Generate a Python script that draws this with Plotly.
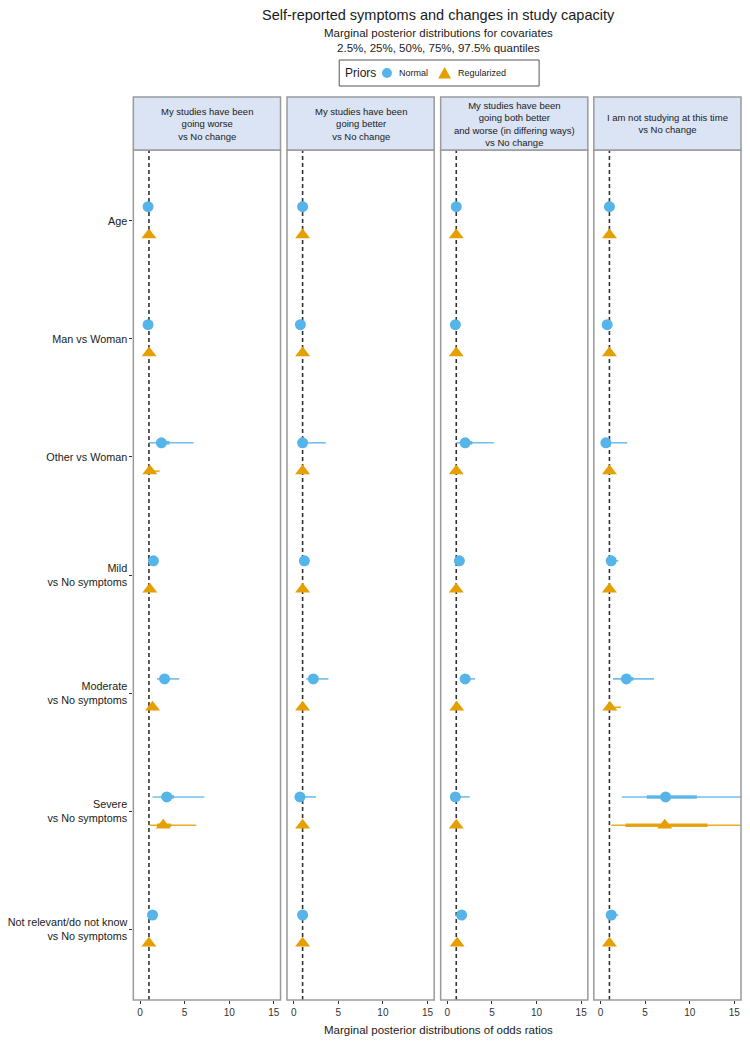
import plotly.graph_objects as go

# ---------------- data ----------------
covariates = ["Age", "Man vs Woman", "Other vs Woman", "Mild<br>vs No symptoms",
              "Moderate<br>vs No symptoms", "Severe<br>vs No symptoms",
              "Not relevant/do not know<br>vs No symptoms"]

panels = ["My studies have been<br>going worse<br>vs No change",
          "My studies have been<br>going better<br>vs No change",
          "My studies have been<br>going both better<br>and worse (in differing ways)<br>vs No change",
          "I am not studying at this time<br>vs No change"]

priors = ["Normal", "Regularized"]

# rows: covariates; columns: 2.5%, 25%, 50%, 75%, 97.5% quantiles of odds ratios
worse_normal = [[0.8, 0.85, 0.9, 0.95, 1.0],
                [0.75, 0.85, 0.9, 0.95, 1.05],
                [1.0, 1.8, 2.4, 3.3, 6.0],
                [1.2, 1.4, 1.5, 1.65, 1.9],
                [1.9, 2.4, 2.75, 3.2, 4.4],
                [1.4, 2.4, 3.0, 3.8, 7.2],
                [1.1, 1.3, 1.4, 1.5, 1.7]]
worse_reg = [[0.9, 0.97, 1.0, 1.03, 1.1],
             [0.9, 0.98, 1.02, 1.06, 1.2],
             [0.9, 1.0, 1.1, 1.35, 2.2],
             [0.95, 1.05, 1.1, 1.2, 1.35],
             [1.0, 1.25, 1.4, 1.55, 1.8],
             [1.05, 1.9, 2.6, 3.5, 6.3],
             [0.85, 0.95, 1.0, 1.05, 1.15]]

better_normal = [[0.85, 0.95, 1.0, 1.05, 1.15],
                 [0.55, 0.65, 0.75, 0.85, 1.0],
                 [0.45, 0.8, 1.0, 1.5, 3.6],
                 [1.0, 1.1, 1.2, 1.3, 1.45],
                 [1.4, 1.9, 2.2, 2.6, 3.9],
                 [0.3, 0.55, 0.7, 1.0, 2.5],
                 [0.85, 0.95, 1.0, 1.05, 1.2]]
better_reg = [[0.9, 0.97, 1.0, 1.03, 1.1],
              [0.9, 0.97, 1.0, 1.03, 1.1],
              [0.9, 0.97, 1.0, 1.05, 1.15],
              [0.9, 0.97, 1.0, 1.03, 1.1],
              [0.9, 0.97, 1.0, 1.05, 1.15],
              [0.9, 0.97, 1.0, 1.05, 1.2],
              [0.9, 0.97, 1.0, 1.03, 1.1]]

both_normal = [[0.85, 0.95, 1.0, 1.05, 1.15],
               [0.7, 0.8, 0.9, 0.95, 1.05],
               [1.0, 1.5, 2.0, 2.8, 5.2],
               [1.1, 1.25, 1.35, 1.45, 1.6],
               [1.4, 1.75, 2.0, 2.3, 3.1],
               [0.5, 0.75, 0.9, 1.2, 2.5],
               [1.2, 1.45, 1.6, 1.75, 2.0]]
both_reg = [[0.9, 0.97, 1.0, 1.03, 1.1],
            [0.9, 0.97, 1.0, 1.03, 1.1],
            [0.9, 0.97, 1.0, 1.05, 1.2],
            [0.9, 0.97, 1.0, 1.03, 1.1],
            [0.9, 1.0, 1.05, 1.1, 1.2],
            [0.9, 0.97, 1.0, 1.05, 1.2],
            [0.95, 1.05, 1.1, 1.15, 1.25]]

notstudying_normal = [[0.85, 0.95, 1.0, 1.05, 1.2],
                      [0.55, 0.65, 0.75, 0.85, 1.0],
                      [0.2, 0.4, 0.6, 1.0, 3.0],
                      [0.9, 1.1, 1.2, 1.35, 2.0],
                      [1.4, 2.3, 2.9, 3.7, 6.0],
                      [2.4, 5.2, 7.3, 10.8, 18.0],
                      [0.9, 1.1, 1.2, 1.35, 2.0]]
notstudying_reg = [[0.9, 0.97, 1.0, 1.03, 1.15],
                   [0.9, 0.97, 1.0, 1.03, 1.15],
                   [0.9, 0.97, 1.0, 1.05, 1.3],
                   [0.9, 0.97, 1.0, 1.05, 1.2],
                   [0.9, 1.0, 1.05, 1.2, 2.3],
                   [1.2, 2.8, 7.2, 12.0, 20.0],
                   [0.9, 0.97, 1.0, 1.03, 1.15]]

panel_data = [(worse_normal, worse_reg), (better_normal, better_reg),
              (both_normal, both_reg), (notstudying_normal, notstudying_reg)]

x_ticks = [0, 5, 10, 15]
reference_or = 1

# ---------------- style ----------------
# page body has an 8px margin; figure coordinates = page coordinates - 8
OFF = 8
W, H = 734, 1029
FONT = "Liberation Sans, Arial, sans-serif"
BLUE = "#56B4E9"
ORANGE = "#E69F00"
panel_left_px = [130, 284.5, 439, 593]
panel_w_px = 148
plot_top_px, plot_bot_px = 150, 1000
strip_top_px = 97
dodge = 0.12

def px_x(p):
    return (p - OFF) / W

def px_y(p):
    return 1 - (p - OFF) / H

fig = go.Figure()
ypos = list(range(1, len(covariates) + 1))

for pi, (norm, reg) in enumerate(panel_data):
    xa = "x" if pi == 0 else f"x{pi+1}"
    for name, rows, color, sym, off, msize in [(priors[0], norm, BLUE, "circle", -dodge, 11),
                                                (priors[1], reg, ORANGE, "triangle-up", dodge, 13)]:
        thin_x, thin_y, thick_x, thick_y, med_x, med_y = [], [], [], [], [], []
        for yi, q in zip(ypos, rows):
            yy = yi + off
            thin_x += [q[0], q[4], None]
            thin_y += [yy, yy, None]
            thick_x += [q[1], q[3], None]
            thick_y += [yy, yy, None]
            med_x.append(q[2])
            med_y.append(yy)
        fig.add_trace(go.Scatter(x=thin_x, y=thin_y, mode="lines", xaxis=xa, yaxis="y",
                                 line=dict(color=color, width=1.6), opacity=0.85,
                                 showlegend=False, hoverinfo="skip"))
        fig.add_trace(go.Scatter(x=thick_x, y=thick_y, mode="lines", xaxis=xa, yaxis="y",
                                 line=dict(color=color, width=3.5), opacity=0.9,
                                 showlegend=False, hoverinfo="skip"))
        fig.add_trace(go.Scatter(x=med_x, y=med_y, mode="markers", xaxis=xa, yaxis="y",
                                 name=name,
                                 marker=dict(color=color, symbol=sym, size=msize,
                                             line=dict(width=0)),
                                 showlegend=False))
    # reference dashed line
    fig.add_shape(type="line", xref=xa, yref="y domain", x0=reference_or, x1=reference_or,
                  y0=0, y1=1, line=dict(color="#333333", width=1.6, dash="4px,3px"), layer="below")

layout = dict(
    width=W, height=H, autosize=False,
    margin=dict(l=0, r=0, t=0, b=0),
    paper_bgcolor="white", plot_bgcolor="white",
    font=dict(family=FONT, color="#1a1a1a"),
    showlegend=False,
    yaxis=dict(domain=[px_y(plot_bot_px), px_y(plot_top_px)], range=[7.6, 0.4],
               tickvals=ypos, ticktext=covariates, showgrid=False, zeroline=False,
               ticks="outside", ticklen=3, tickcolor="#333333", tickwidth=1,
               tickfont=dict(size=10.8, family=FONT, color="#1a1a1a"), anchor="x",
               showline=False, fixedrange=True),
)
for pi in range(4):
    key = "xaxis" if pi == 0 else f"xaxis{pi+1}"
    l = panel_left_px[pi]
    layout[key] = dict(domain=[px_x(l), px_x(l + panel_w_px)], range=[-0.75, 15.75],
                       tickvals=x_ticks, ticktext=[str(t) for t in x_ticks],
                       showgrid=False, zeroline=False, ticks="outside", ticklen=3,
                       tickcolor="#333333", tickwidth=1, anchor="y",
                       tickfont=dict(size=10, family=FONT, color="#333333"), fixedrange=True)
fig.update_layout(**layout)

# panel borders and strips
for pi in range(4):
    l = panel_left_px[pi]
    fig.add_shape(type="rect", xref="paper", yref="paper",
                  x0=px_x(l), x1=px_x(l + panel_w_px), y0=px_y(plot_bot_px), y1=px_y(plot_top_px),
                  line=dict(color="#9a9a9a", width=1.5), fillcolor="rgba(0,0,0,0)", layer="above")
    fig.add_shape(type="rect", xref="paper", yref="paper",
                  x0=px_x(l), x1=px_x(l + panel_w_px), y0=px_y(plot_top_px), y1=px_y(strip_top_px),
                  line=dict(color="#9a9a9a", width=1.5), fillcolor="#dbe4f4", layer="above")
    fig.add_annotation(x=px_x(l + panel_w_px / 2), y=px_y((plot_top_px + strip_top_px) / 2),
                       xref="paper", yref="paper", text=panels[pi], showarrow=False,
                       font=dict(size=9.5, family=FONT, color="#1a1a1a"),
                       xanchor="center", yanchor="middle", align="center")

# legend (drawn as a key box)
LEG_Y = 73
fig.add_shape(type="rect", xref="paper", yref="paper",
              x0=px_x(337), x1=px_x(538), y0=px_y(86), y1=px_y(60),
              line=dict(color="#555555", width=1), fillcolor="white")
fig.add_annotation(x=px_x(341), y=px_y(LEG_Y), xref="paper", yref="paper", text="Priors",
                   showarrow=False, xanchor="left", yanchor="middle",
                   font=dict(size=12, family=FONT, color="#1a1a1a"))
fig.add_shape(type="circle", xref="paper", yref="paper",
              x0=px_x(380), x1=px_x(390), y0=px_y(LEG_Y + 5), y1=px_y(LEG_Y - 5),
              line=dict(width=0), fillcolor=BLUE)
fig.add_annotation(x=px_x(395), y=px_y(LEG_Y), xref="paper", yref="paper", text=priors[0],
                   showarrow=False, xanchor="left", yanchor="middle",
                   font=dict(size=9, family=FONT, color="#1a1a1a"))
tx0, tx1, tx = px_x(436.5), px_x(449.5), px_x(443)
ty0, ty1 = px_y(LEG_Y + 5.5), px_y(LEG_Y - 6)
fig.add_shape(type="path", xref="paper", yref="paper",
              path=f"M {tx0} {ty0} L {tx1} {ty0} L {tx} {ty1} Z",
              line=dict(width=0), fillcolor=ORANGE)
fig.add_annotation(x=px_x(454), y=px_y(LEG_Y), xref="paper", yref="paper", text=priors[1],
                   showarrow=False, xanchor="left", yanchor="middle",
                   font=dict(size=9, family=FONT, color="#1a1a1a"))

# titles
fig.add_annotation(x=px_x(437), y=px_y(15), xref="paper", yref="paper",
                   text="Self-reported symptoms and changes in study capacity",
                   showarrow=False, font=dict(size=14.5, family=FONT, color="#1a1a1a"),
                   xanchor="center", yanchor="middle")
fig.add_annotation(x=px_x(437), y=px_y(41), xref="paper", yref="paper",
                   text="Marginal posterior distributions for covariates<br>2.5%, 25%, 50%, 75%, 97.5% quantiles",
                   showarrow=False, font=dict(size=11.5, family=FONT, color="#1a1a1a"),
                   xanchor="center", yanchor="middle", align="center")
fig.add_annotation(x=px_x(437), y=px_y(1030), xref="paper", yref="paper",
                   text="Marginal posterior distributions of odds ratios",
                   showarrow=False, font=dict(size=11.5, family=FONT, color="#1a1a1a"),
                   xanchor="center", yanchor="middle")

fig.write_html("out.html")
